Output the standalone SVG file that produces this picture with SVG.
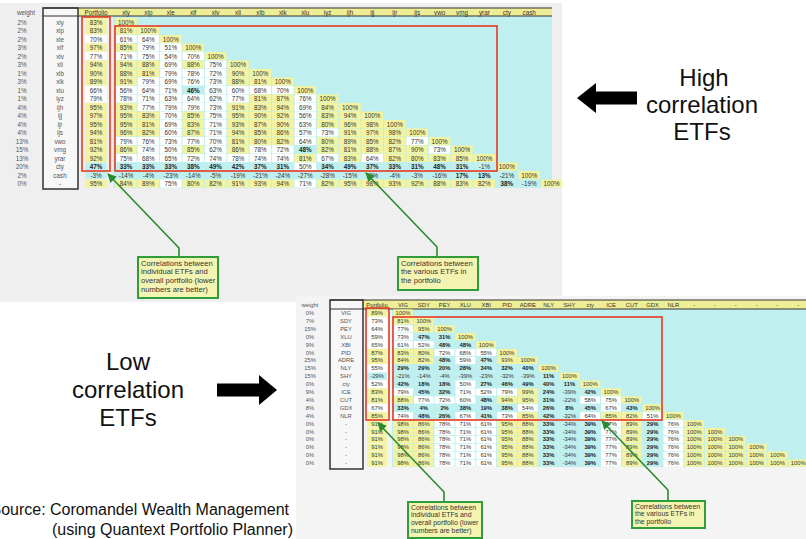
<svg xmlns="http://www.w3.org/2000/svg" width="806" height="539" viewBox="0 0 806 539">
<style>
.sh text{font-family:"Liberation Sans",Arial,sans-serif;fill:#333;text-anchor:middle;dominant-baseline:central}
.sh1 text{font-size:6.3px}
.sh2 text{font-size:5.8px}
.sh text.b{font-weight:bold;fill:#1a1a1a}
.sh text.g{fill:#555}
.big{font-family:"Liberation Sans",Arial,sans-serif;font-size:24px;fill:#111;text-anchor:middle}
.src{font-family:"Liberation Sans",Arial,sans-serif;font-size:16px;fill:#111;text-anchor:end}
.co{fill:#f4f4b2;stroke:#2f9e3a;stroke-width:2}
.ct{font-family:"Liberation Sans",Arial,sans-serif;fill:#333}
.ct1{font-size:7.6px}
.ct2{font-size:6.9px}
.red{fill:none;stroke:#e63a22;stroke-width:1.6}
.conn{fill:none;stroke:#2a8a2e;stroke-width:1.6;marker-end:url(#ah)}
.hl{stroke:#333;stroke-width:1.2}
.box{fill:#f7f7f7;stroke:#333;stroke-width:1.5}
</style>
<defs>
<rect id="y" x="-10.7" y="-4" width="21.4" height="8" fill="#f3f3a0"/>
<rect id="w" x="-10.7" y="-4" width="21.4" height="8" fill="#ffffff"/>
<rect id="c" x="-10.7" y="-4" width="21.4" height="8" fill="#bfefee"/>
<rect id="y2" x="-9.9" y="-3.6" width="19.8" height="7.2" fill="#f3f3a0"/>
<rect id="w2" x="-9.9" y="-3.6" width="19.8" height="7.2" fill="#ffffff"/>
<rect id="c2" x="-9.9" y="-3.6" width="19.8" height="7.2" fill="#bfefee"/>
<marker id="ah" viewBox="0 0 10 10" refX="9" refY="5" markerWidth="9" markerHeight="9" orient="auto" markerUnits="userSpaceOnUse"><path d="M0,0 L10,5 L0,10 z" fill="#2a8a2e"/></marker>
</defs>
<rect x="0" y="0" width="806" height="539" fill="#ffffff"/>

<g id="top-sheet" class="sh sh1">
<rect x="0" y="3" width="562" height="299" fill="#efefef"/>
<rect x="113" y="16" width="439" height="172" fill="#bfefee"/>
<rect x="78" y="8" width="474" height="8" fill="#eeee96"/>
<rect class="box" x="43" y="8" width="35" height="181"/>
<line class="hl" x1="43" y1="8" x2="552" y2="8"/><line class="hl" x1="43" y1="16" x2="552" y2="16"/>
<g transform="translate(0,12)"><text x="26" class="g">weight</text><text x="96">Portfolio</text><text x="126">xly</text><text x="148.4">xlp</text><text x="170.8">xle</text><text x="193.2">xlf</text><text x="215.6">xlv</text><text x="238">xli</text><text x="260.4">xlb</text><text x="282.8">xlk</text><text x="305.2">xlu</text><text x="327.6">iyz</text><text x="350">ijh</text><text x="372.4">ijj</text><text x="394.8">ijr</text><text x="417.2">ijs</text><text x="439.6">vwo</text><text x="462">vmg</text><text x="484.4">yrar</text><text x="506.8">cty</text><text x="529.2">cash</text></g>
<g transform="translate(0,22)"><text x="22" class="g">2%</text><text x="60" class="g">xly</text><use href="#y" x="96"/><text x="96">83%</text><use href="#y" x="126"/><text x="126">100%</text></g>
<g transform="translate(0,30.5)"><text x="22" class="g">2%</text><text x="60" class="g">xlp</text><use href="#y" x="96"/><text x="96">83%</text><use href="#y" x="126"/><text x="126">81%</text><use href="#y" x="148.4"/><text x="148.4">100%</text></g>
<g transform="translate(0,39)"><text x="22" class="g">2%</text><text x="60" class="g">xle</text><use href="#w" x="96"/><text x="96">70%</text><use href="#w" x="126"/><text x="126">61%</text><use href="#w" x="148.4"/><text x="148.4">64%</text><use href="#y" x="170.8"/><text x="170.8">100%</text></g>
<g transform="translate(0,47.5)"><text x="22" class="g">3%</text><text x="60" class="g">xlf</text><use href="#y" x="96"/><text x="96">97%</text><use href="#y" x="126"/><text x="126">85%</text><use href="#w" x="148.4"/><text x="148.4">79%</text><use href="#w" x="170.8"/><text x="170.8">51%</text><use href="#y" x="193.2"/><text x="193.2">100%</text></g>
<g transform="translate(0,56)"><text x="22" class="g">2%</text><text x="60" class="g">xlv</text><use href="#w" x="96"/><text x="96">77%</text><use href="#w" x="126"/><text x="126">71%</text><use href="#w" x="148.4"/><text x="148.4">75%</text><use href="#w" x="170.8"/><text x="170.8">54%</text><use href="#w" x="193.2"/><text x="193.2">70%</text><use href="#y" x="215.6"/><text x="215.6">100%</text></g>
<g transform="translate(0,64.5)"><text x="22" class="g">3%</text><text x="60" class="g">xli</text><use href="#y" x="96"/><text x="96">94%</text><use href="#y" x="126"/><text x="126">94%</text><use href="#y" x="148.4"/><text x="148.4">88%</text><use href="#w" x="170.8"/><text x="170.8">69%</text><use href="#y" x="193.2"/><text x="193.2">88%</text><use href="#w" x="215.6"/><text x="215.6">75%</text><use href="#y" x="238"/><text x="238">100%</text></g>
<g transform="translate(0,73)"><text x="22" class="g">1%</text><text x="60" class="g">xlb</text><use href="#y" x="96"/><text x="96">90%</text><use href="#y" x="126"/><text x="126">88%</text><use href="#y" x="148.4"/><text x="148.4">81%</text><use href="#w" x="170.8"/><text x="170.8">79%</text><use href="#w" x="193.2"/><text x="193.2">78%</text><use href="#w" x="215.6"/><text x="215.6">72%</text><use href="#y" x="238"/><text x="238">90%</text><use href="#y" x="260.4"/><text x="260.4">100%</text></g>
<g transform="translate(0,81.5)"><text x="22" class="g">3%</text><text x="60" class="g">xlk</text><use href="#y" x="96"/><text x="96">89%</text><use href="#y" x="126"/><text x="126">91%</text><use href="#w" x="148.4"/><text x="148.4">79%</text><use href="#w" x="170.8"/><text x="170.8">69%</text><use href="#w" x="193.2"/><text x="193.2">76%</text><use href="#w" x="215.6"/><text x="215.6">73%</text><use href="#y" x="238"/><text x="238">88%</text><use href="#y" x="260.4"/><text x="260.4">81%</text><use href="#y" x="282.8"/><text x="282.8">100%</text></g>
<g transform="translate(0,90)"><text x="22" class="g">1%</text><text x="60" class="g">xlu</text><use href="#w" x="96"/><text x="96">66%</text><use href="#w" x="126"/><text x="126">56%</text><use href="#w" x="148.4"/><text x="148.4">64%</text><use href="#w" x="170.8"/><text x="170.8">71%</text><text x="193.2" class="b">46%</text><use href="#w" x="215.6"/><text x="215.6">63%</text><use href="#w" x="238"/><text x="238">60%</text><use href="#w" x="260.4"/><text x="260.4">68%</text><use href="#w" x="282.8"/><text x="282.8">70%</text><use href="#y" x="305.2"/><text x="305.2">100%</text></g>
<g transform="translate(0,98.5)"><text x="22" class="g">1%</text><text x="60" class="g">iyz</text><use href="#w" x="96"/><text x="96">79%</text><use href="#w" x="126"/><text x="126">78%</text><use href="#w" x="148.4"/><text x="148.4">71%</text><use href="#w" x="170.8"/><text x="170.8">63%</text><use href="#w" x="193.2"/><text x="193.2">64%</text><use href="#w" x="215.6"/><text x="215.6">62%</text><use href="#w" x="238"/><text x="238">77%</text><use href="#y" x="260.4"/><text x="260.4">81%</text><use href="#y" x="282.8"/><text x="282.8">87%</text><use href="#w" x="305.2"/><text x="305.2">76%</text><use href="#y" x="327.6"/><text x="327.6">100%</text></g>
<g transform="translate(0,107)"><text x="22" class="g">4%</text><text x="60" class="g">ijh</text><use href="#y" x="96"/><text x="96">95%</text><use href="#y" x="126"/><text x="126">93%</text><use href="#w" x="148.4"/><text x="148.4">77%</text><use href="#w" x="170.8"/><text x="170.8">79%</text><use href="#w" x="193.2"/><text x="193.2">79%</text><use href="#w" x="215.6"/><text x="215.6">73%</text><use href="#y" x="238"/><text x="238">91%</text><use href="#y" x="260.4"/><text x="260.4">83%</text><use href="#y" x="282.8"/><text x="282.8">94%</text><use href="#w" x="305.2"/><text x="305.2">69%</text><use href="#y" x="327.6"/><text x="327.6">84%</text><use href="#y" x="350"/><text x="350">100%</text></g>
<g transform="translate(0,115.5)"><text x="22" class="g">4%</text><text x="60" class="g">ijj</text><use href="#y" x="96"/><text x="96">97%</text><use href="#y" x="126"/><text x="126">95%</text><use href="#y" x="148.4"/><text x="148.4">83%</text><use href="#w" x="170.8"/><text x="170.8">70%</text><use href="#y" x="193.2"/><text x="193.2">85%</text><use href="#w" x="215.6"/><text x="215.6">75%</text><use href="#y" x="238"/><text x="238">95%</text><use href="#y" x="260.4"/><text x="260.4">90%</text><use href="#y" x="282.8"/><text x="282.8">92%</text><use href="#w" x="305.2"/><text x="305.2">56%</text><use href="#y" x="327.6"/><text x="327.6">83%</text><use href="#y" x="350"/><text x="350">94%</text><use href="#y" x="372.4"/><text x="372.4">100%</text></g>
<g transform="translate(0,124)"><text x="22" class="g">4%</text><text x="60" class="g">ijr</text><use href="#y" x="96"/><text x="96">95%</text><use href="#y" x="126"/><text x="126">95%</text><use href="#y" x="148.4"/><text x="148.4">81%</text><use href="#w" x="170.8"/><text x="170.8">69%</text><use href="#y" x="193.2"/><text x="193.2">83%</text><use href="#w" x="215.6"/><text x="215.6">71%</text><use href="#y" x="238"/><text x="238">93%</text><use href="#y" x="260.4"/><text x="260.4">87%</text><use href="#y" x="282.8"/><text x="282.8">90%</text><use href="#w" x="305.2"/><text x="305.2">63%</text><use href="#y" x="327.6"/><text x="327.6">80%</text><use href="#y" x="350"/><text x="350">96%</text><use href="#y" x="372.4"/><text x="372.4">98%</text><use href="#y" x="394.8"/><text x="394.8">100%</text></g>
<g transform="translate(0,132.5)"><text x="22" class="g">4%</text><text x="60" class="g">ijs</text><use href="#y" x="96"/><text x="96">94%</text><use href="#y" x="126"/><text x="126">96%</text><use href="#y" x="148.4"/><text x="148.4">82%</text><use href="#w" x="170.8"/><text x="170.8">60%</text><use href="#y" x="193.2"/><text x="193.2">87%</text><use href="#w" x="215.6"/><text x="215.6">71%</text><use href="#y" x="238"/><text x="238">94%</text><use href="#y" x="260.4"/><text x="260.4">85%</text><use href="#y" x="282.8"/><text x="282.8">86%</text><use href="#w" x="305.2"/><text x="305.2">57%</text><use href="#w" x="327.6"/><text x="327.6">73%</text><use href="#y" x="350"/><text x="350">91%</text><use href="#y" x="372.4"/><text x="372.4">97%</text><use href="#y" x="394.8"/><text x="394.8">98%</text><use href="#y" x="417.2"/><text x="417.2">100%</text></g>
<g transform="translate(0,141)"><text x="22" class="g">13%</text><text x="60" class="g">vwo</text><use href="#y" x="96"/><text x="96">81%</text><use href="#w" x="126"/><text x="126">79%</text><use href="#w" x="148.4"/><text x="148.4">76%</text><use href="#w" x="170.8"/><text x="170.8">73%</text><use href="#w" x="193.2"/><text x="193.2">77%</text><use href="#w" x="215.6"/><text x="215.6">70%</text><use href="#y" x="238"/><text x="238">81%</text><use href="#y" x="260.4"/><text x="260.4">80%</text><use href="#y" x="282.8"/><text x="282.8">82%</text><use href="#w" x="305.2"/><text x="305.2">64%</text><use href="#y" x="327.6"/><text x="327.6">80%</text><use href="#y" x="350"/><text x="350">89%</text><use href="#y" x="372.4"/><text x="372.4">85%</text><use href="#y" x="394.8"/><text x="394.8">82%</text><use href="#w" x="417.2"/><text x="417.2">77%</text><use href="#y" x="439.6"/><text x="439.6">100%</text></g>
<g transform="translate(0,149.5)"><text x="22" class="g">15%</text><text x="60" class="g">vmg</text><use href="#y" x="96"/><text x="96">92%</text><use href="#y" x="126"/><text x="126">86%</text><use href="#w" x="148.4"/><text x="148.4">74%</text><use href="#w" x="170.8"/><text x="170.8">50%</text><use href="#y" x="193.2"/><text x="193.2">85%</text><use href="#w" x="215.6"/><text x="215.6">62%</text><use href="#y" x="238"/><text x="238">86%</text><use href="#w" x="260.4"/><text x="260.4">78%</text><use href="#w" x="282.8"/><text x="282.8">72%</text><text x="305.2" class="b">48%</text><use href="#y" x="327.6"/><text x="327.6">82%</text><use href="#y" x="350"/><text x="350">81%</text><use href="#y" x="372.4"/><text x="372.4">88%</text><use href="#y" x="394.8"/><text x="394.8">87%</text><use href="#y" x="417.2"/><text x="417.2">90%</text><use href="#w" x="439.6"/><text x="439.6">73%</text><use href="#y" x="462"/><text x="462">100%</text></g>
<g transform="translate(0,158)"><text x="22" class="g">13%</text><text x="60" class="g">yrar</text><use href="#y" x="96"/><text x="96">92%</text><use href="#w" x="126"/><text x="126">75%</text><use href="#w" x="148.4"/><text x="148.4">68%</text><use href="#w" x="170.8"/><text x="170.8">65%</text><use href="#w" x="193.2"/><text x="193.2">72%</text><use href="#w" x="215.6"/><text x="215.6">74%</text><use href="#w" x="238"/><text x="238">78%</text><use href="#w" x="260.4"/><text x="260.4">74%</text><use href="#w" x="282.8"/><text x="282.8">74%</text><use href="#y" x="305.2"/><text x="305.2">81%</text><use href="#w" x="327.6"/><text x="327.6">67%</text><use href="#y" x="350"/><text x="350">83%</text><use href="#w" x="372.4"/><text x="372.4">64%</text><use href="#y" x="394.8"/><text x="394.8">82%</text><use href="#y" x="417.2"/><text x="417.2">80%</text><use href="#y" x="439.6"/><text x="439.6">83%</text><use href="#y" x="462"/><text x="462">85%</text><use href="#y" x="484.4"/><text x="484.4">100%</text></g>
<g transform="translate(0,166.5)"><text x="22" class="g">20%</text><text x="60" class="g">cty</text><use href="#c" x="96"/><text x="96" class="b">47%</text><text x="126" class="b">33%</text><text x="148.4" class="b">33%</text><text x="170.8" class="b">33%</text><text x="193.2" class="b">38%</text><text x="215.6" class="b">49%</text><text x="238" class="b">42%</text><text x="260.4" class="b">37%</text><text x="282.8" class="b">31%</text><use href="#w" x="305.2"/><text x="305.2">50%</text><text x="327.6" class="b">34%</text><text x="350" class="b">49%</text><text x="372.4" class="b">37%</text><text x="394.8" class="b">33%</text><text x="417.2" class="b">31%</text><text x="439.6" class="b">48%</text><text x="462" class="b">31%</text><text x="484.4">-1%</text><use href="#y" x="506.8"/><text x="506.8">100%</text></g>
<g transform="translate(0,175)"><text x="22" class="g">2%</text><text x="60" class="g">cash</text><use href="#c" x="96"/><text x="96">-3%</text><text x="126">-14%</text><text x="148.4">-4%</text><text x="170.8">-23%</text><text x="193.2">-14%</text><text x="215.6">-5%</text><text x="238">-19%</text><text x="260.4">-21%</text><text x="282.8">-24%</text><text x="305.2">-27%</text><text x="327.6">-28%</text><text x="350">-15%</text><text x="372.4">-9%</text><text x="394.8">-4%</text><text x="417.2">-3%</text><text x="439.6">-16%</text><text x="462" class="b">17%</text><text x="484.4" class="b">13%</text><text x="506.8">-21%</text><use href="#y" x="529.2"/><text x="529.2">100%</text></g>
<g transform="translate(0,183.5)"><text x="22" class="g">0%</text><text x="60" class="g">-</text><use href="#y" x="96"/><text x="96">95%</text><use href="#y" x="126"/><text x="126">84%</text><use href="#y" x="148.4"/><text x="148.4">89%</text><use href="#w" x="170.8"/><text x="170.8">75%</text><use href="#y" x="193.2"/><text x="193.2">80%</text><use href="#y" x="215.6"/><text x="215.6">82%</text><use href="#y" x="238"/><text x="238">91%</text><use href="#y" x="260.4"/><text x="260.4">93%</text><use href="#y" x="282.8"/><text x="282.8">94%</text><use href="#w" x="305.2"/><text x="305.2">71%</text><use href="#y" x="327.6"/><text x="327.6">82%</text><use href="#y" x="350"/><text x="350">95%</text><use href="#y" x="372.4"/><text x="372.4">98%</text><use href="#y" x="394.8"/><text x="394.8">93%</text><use href="#y" x="417.2"/><text x="417.2">92%</text><use href="#y" x="439.6"/><text x="439.6">88%</text><use href="#y" x="462"/><text x="462">83%</text><use href="#y" x="484.4"/><text x="484.4">82%</text><text x="506.8" class="b">38%</text><text x="529.2">-19%</text><use href="#y" x="551.6"/><text x="551.6">100%</text></g>
<rect class="red" x="82" y="17" width="28" height="154"/>
<rect class="red" x="115" y="26" width="382" height="145"/>
</g>

<g id="bottom-sheet" class="sh sh2">
<rect x="296" y="296" width="510" height="243" fill="#f4f4f4"/>
<rect x="392" y="309" width="414" height="158" fill="#bfefee"/>
<rect x="363" y="300" width="443" height="9" fill="#eeee96"/>
<rect class="box" x="330" y="300" width="33" height="169"/>
<line class="hl" x1="330" y1="300" x2="806" y2="300"/><line class="hl" x1="330" y1="309" x2="806" y2="309"/>
<g transform="translate(0,304.5)"><text x="310" class="g">weight</text><text x="377">Portfolio</text><text x="403">VIG</text><text x="423.8">SDY</text><text x="444.6">PEY</text><text x="465.4">XLU</text><text x="486.2">XBI</text><text x="507">PID</text><text x="527.8">ADRE</text><text x="548.6">NLY</text><text x="569.4">SHY</text><text x="590.2">cty</text><text x="611">ICE</text><text x="631.8">CUT</text><text x="652.6">GDX</text><text x="673.4">NLR</text><text x="694.2">-</text><text x="715">-</text><text x="735.8">-</text><text x="756.6">-</text><text x="777.4">-</text><text x="798.2">-</text></g>
<g transform="translate(0,313)"><text x="310" class="g">0%</text><text x="346" class="g">VIG</text><use href="#y2" x="377"/><text x="377">89%</text><use href="#y2" x="403"/><text x="403">100%</text></g>
<g transform="translate(0,320.9)"><text x="310" class="g">7%</text><text x="346" class="g">SDY</text><use href="#w2" x="377"/><text x="377">73%</text><use href="#y2" x="403"/><text x="403">81%</text><use href="#y2" x="423.8"/><text x="423.8">100%</text></g>
<g transform="translate(0,328.8)"><text x="310" class="g">15%</text><text x="346" class="g">PEY</text><use href="#w2" x="377"/><text x="377">64%</text><use href="#w2" x="403"/><text x="403">77%</text><use href="#y2" x="423.8"/><text x="423.8">95%</text><use href="#y2" x="444.6"/><text x="444.6">100%</text></g>
<g transform="translate(0,336.7)"><text x="310" class="g">0%</text><text x="346" class="g">XLU</text><use href="#w2" x="377"/><text x="377">59%</text><use href="#w2" x="403"/><text x="403">73%</text><text x="423.8" class="b">47%</text><text x="444.6" class="b">31%</text><use href="#y2" x="465.4"/><text x="465.4">100%</text></g>
<g transform="translate(0,344.6)"><text x="310" class="g">9%</text><text x="346" class="g">XBI</text><use href="#w2" x="377"/><text x="377">65%</text><use href="#w2" x="403"/><text x="403">61%</text><use href="#w2" x="423.8"/><text x="423.8">52%</text><text x="444.6" class="b">48%</text><text x="465.4" class="b">48%</text><use href="#y2" x="486.2"/><text x="486.2">100%</text></g>
<g transform="translate(0,352.5)"><text x="310" class="g">0%</text><text x="346" class="g">PID</text><use href="#y2" x="377"/><text x="377">87%</text><use href="#y2" x="403"/><text x="403">83%</text><use href="#y2" x="423.8"/><text x="423.8">80%</text><use href="#w2" x="444.6"/><text x="444.6">72%</text><use href="#w2" x="465.4"/><text x="465.4">68%</text><use href="#w2" x="486.2"/><text x="486.2">55%</text><use href="#y2" x="507"/><text x="507">100%</text></g>
<g transform="translate(0,360.4)"><text x="310" class="g">25%</text><text x="346" class="g">ADRE</text><use href="#y2" x="377"/><text x="377">95%</text><use href="#y2" x="403"/><text x="403">84%</text><use href="#y2" x="423.8"/><text x="423.8">82%</text><text x="444.6" class="b">48%</text><use href="#w2" x="465.4"/><text x="465.4">59%</text><text x="486.2" class="b">47%</text><use href="#y2" x="507"/><text x="507">93%</text><use href="#y2" x="527.8"/><text x="527.8">100%</text></g>
<g transform="translate(0,368.3)"><text x="310" class="g">15%</text><text x="346" class="g">NLY</text><use href="#w2" x="377"/><text x="377">55%</text><text x="403" class="b">29%</text><text x="423.8" class="b">29%</text><text x="444.6" class="b">20%</text><text x="465.4" class="b">28%</text><text x="486.2" class="b">34%</text><text x="507" class="b">32%</text><text x="527.8" class="b">40%</text><use href="#y2" x="548.6"/><text x="548.6">100%</text></g>
<g transform="translate(0,376.2)"><text x="310" class="g">15%</text><text x="346" class="g">SHY</text><use href="#c2" x="377"/><text x="377">-29%</text><text x="403">-21%</text><text x="423.8">-14%</text><text x="444.6">-4%</text><text x="465.4">-39%</text><text x="486.2">-23%</text><text x="507">-32%</text><text x="527.8">-39%</text><text x="548.6" class="b">11%</text><use href="#y2" x="569.4"/><text x="569.4">100%</text></g>
<g transform="translate(0,384.1)"><text x="310" class="g">0%</text><text x="346" class="g">cty</text><use href="#w2" x="377"/><text x="377">52%</text><text x="403" class="b">42%</text><text x="423.8" class="b">18%</text><text x="444.6" class="b">18%</text><use href="#w2" x="465.4"/><text x="465.4">50%</text><text x="486.2" class="b">27%</text><text x="507" class="b">46%</text><text x="527.8" class="b">49%</text><text x="548.6" class="b">40%</text><text x="569.4" class="b">11%</text><use href="#y2" x="590.2"/><text x="590.2">100%</text></g>
<g transform="translate(0,392)"><text x="310" class="g">9%</text><text x="346" class="g">ICE</text><use href="#y2" x="377"/><text x="377">83%</text><use href="#w2" x="403"/><text x="403">79%</text><text x="423.8" class="b">45%</text><text x="444.6" class="b">32%</text><use href="#w2" x="465.4"/><text x="465.4">71%</text><use href="#w2" x="486.2"/><text x="486.2">52%</text><use href="#w2" x="507"/><text x="507">79%</text><use href="#y2" x="527.8"/><text x="527.8">99%</text><text x="548.6" class="b">24%</text><text x="569.4">-39%</text><text x="590.2" class="b">42%</text><use href="#y2" x="611"/><text x="611">100%</text></g>
<g transform="translate(0,399.9)"><text x="310" class="g">4%</text><text x="346" class="g">CUT</text><use href="#y2" x="377"/><text x="377">81%</text><use href="#y2" x="403"/><text x="403">88%</text><use href="#w2" x="423.8"/><text x="423.8">77%</text><use href="#w2" x="444.6"/><text x="444.6">72%</text><use href="#w2" x="465.4"/><text x="465.4">60%</text><text x="486.2" class="b">48%</text><use href="#y2" x="507"/><text x="507">94%</text><use href="#y2" x="527.8"/><text x="527.8">95%</text><text x="548.6" class="b">31%</text><text x="569.4">-22%</text><use href="#w2" x="590.2"/><text x="590.2">58%</text><use href="#w2" x="611"/><text x="611">75%</text><use href="#y2" x="631.8"/><text x="631.8">100%</text></g>
<g transform="translate(0,407.8)"><text x="310" class="g">8%</text><text x="346" class="g">GDX</text><use href="#w2" x="377"/><text x="377">67%</text><text x="403" class="b">33%</text><text x="423.8" class="b">4%</text><text x="444.6" class="b">2%</text><text x="465.4" class="b">38%</text><text x="486.2" class="b">19%</text><text x="507" class="b">38%</text><use href="#w2" x="527.8"/><text x="527.8">54%</text><text x="548.6" class="b">26%</text><text x="569.4" class="b">8%</text><text x="590.2" class="b">45%</text><use href="#w2" x="611"/><text x="611">67%</text><text x="631.8" class="b">43%</text><use href="#y2" x="652.6"/><text x="652.6">100%</text></g>
<g transform="translate(0,415.7)"><text x="310" class="g">4%</text><text x="346" class="g">NLR</text><use href="#y2" x="377"/><text x="377">85%</text><use href="#w2" x="403"/><text x="403">74%</text><text x="423.8" class="b">48%</text><text x="444.6" class="b">26%</text><use href="#w2" x="465.4"/><text x="465.4">67%</text><text x="486.2" class="b">41%</text><use href="#w2" x="507"/><text x="507">73%</text><use href="#y2" x="527.8"/><text x="527.8">85%</text><text x="548.6" class="b">42%</text><text x="569.4">-32%</text><use href="#w2" x="590.2"/><text x="590.2">64%</text><use href="#y2" x="611"/><text x="611">85%</text><use href="#y2" x="631.8"/><text x="631.8">82%</text><use href="#w2" x="652.6"/><text x="652.6">51%</text><use href="#y2" x="673.4"/><text x="673.4">100%</text></g>
<g transform="translate(0,423.6)"><text x="310" class="g">0%</text><text x="346" class="g">-</text><use href="#y2" x="377"/><text x="377">91%</text><use href="#y2" x="403"/><text x="403">98%</text><use href="#y2" x="423.8"/><text x="423.8">86%</text><use href="#w2" x="444.6"/><text x="444.6">78%</text><use href="#w2" x="465.4"/><text x="465.4">71%</text><use href="#w2" x="486.2"/><text x="486.2">61%</text><use href="#y2" x="507"/><text x="507">95%</text><use href="#y2" x="527.8"/><text x="527.8">88%</text><text x="548.6" class="b">33%</text><text x="569.4">-34%</text><text x="590.2" class="b">39%</text><use href="#w2" x="611"/><text x="611">77%</text><use href="#y2" x="631.8"/><text x="631.8">89%</text><text x="652.6" class="b">29%</text><use href="#w2" x="673.4"/><text x="673.4">76%</text><use href="#y2" x="694.2"/><text x="694.2">100%</text></g>
<g transform="translate(0,431.5)"><text x="310" class="g">0%</text><text x="346" class="g">-</text><use href="#y2" x="377"/><text x="377">91%</text><use href="#y2" x="403"/><text x="403">98%</text><use href="#y2" x="423.8"/><text x="423.8">86%</text><use href="#w2" x="444.6"/><text x="444.6">78%</text><use href="#w2" x="465.4"/><text x="465.4">71%</text><use href="#w2" x="486.2"/><text x="486.2">61%</text><use href="#y2" x="507"/><text x="507">95%</text><use href="#y2" x="527.8"/><text x="527.8">88%</text><text x="548.6" class="b">33%</text><text x="569.4">-34%</text><text x="590.2" class="b">39%</text><use href="#w2" x="611"/><text x="611">77%</text><use href="#y2" x="631.8"/><text x="631.8">89%</text><text x="652.6" class="b">29%</text><use href="#w2" x="673.4"/><text x="673.4">76%</text><use href="#y2" x="694.2"/><text x="694.2">100%</text><use href="#y2" x="715"/><text x="715">100%</text></g>
<g transform="translate(0,439.4)"><text x="310" class="g">0%</text><text x="346" class="g">-</text><use href="#y2" x="377"/><text x="377">91%</text><use href="#y2" x="403"/><text x="403">98%</text><use href="#y2" x="423.8"/><text x="423.8">86%</text><use href="#w2" x="444.6"/><text x="444.6">78%</text><use href="#w2" x="465.4"/><text x="465.4">71%</text><use href="#w2" x="486.2"/><text x="486.2">61%</text><use href="#y2" x="507"/><text x="507">95%</text><use href="#y2" x="527.8"/><text x="527.8">88%</text><text x="548.6" class="b">33%</text><text x="569.4">-34%</text><text x="590.2" class="b">39%</text><use href="#w2" x="611"/><text x="611">77%</text><use href="#y2" x="631.8"/><text x="631.8">89%</text><text x="652.6" class="b">29%</text><use href="#w2" x="673.4"/><text x="673.4">76%</text><use href="#y2" x="694.2"/><text x="694.2">100%</text><use href="#y2" x="715"/><text x="715">100%</text><use href="#y2" x="735.8"/><text x="735.8">100%</text></g>
<g transform="translate(0,447.3)"><text x="310" class="g">0%</text><text x="346" class="g">-</text><use href="#y2" x="377"/><text x="377">91%</text><use href="#y2" x="403"/><text x="403">98%</text><use href="#y2" x="423.8"/><text x="423.8">86%</text><use href="#w2" x="444.6"/><text x="444.6">78%</text><use href="#w2" x="465.4"/><text x="465.4">71%</text><use href="#w2" x="486.2"/><text x="486.2">61%</text><use href="#y2" x="507"/><text x="507">95%</text><use href="#y2" x="527.8"/><text x="527.8">88%</text><text x="548.6" class="b">33%</text><text x="569.4">-34%</text><text x="590.2" class="b">39%</text><use href="#w2" x="611"/><text x="611">77%</text><use href="#y2" x="631.8"/><text x="631.8">89%</text><text x="652.6" class="b">29%</text><use href="#w2" x="673.4"/><text x="673.4">76%</text><use href="#y2" x="694.2"/><text x="694.2">100%</text><use href="#y2" x="715"/><text x="715">100%</text><use href="#y2" x="735.8"/><text x="735.8">100%</text><use href="#y2" x="756.6"/><text x="756.6">100%</text></g>
<g transform="translate(0,455.2)"><text x="310" class="g">0%</text><text x="346" class="g">-</text><use href="#y2" x="377"/><text x="377">91%</text><use href="#y2" x="403"/><text x="403">98%</text><use href="#y2" x="423.8"/><text x="423.8">86%</text><use href="#w2" x="444.6"/><text x="444.6">78%</text><use href="#w2" x="465.4"/><text x="465.4">71%</text><use href="#w2" x="486.2"/><text x="486.2">61%</text><use href="#y2" x="507"/><text x="507">95%</text><use href="#y2" x="527.8"/><text x="527.8">88%</text><text x="548.6" class="b">33%</text><text x="569.4">-34%</text><text x="590.2" class="b">39%</text><use href="#w2" x="611"/><text x="611">77%</text><use href="#y2" x="631.8"/><text x="631.8">89%</text><text x="652.6" class="b">29%</text><use href="#w2" x="673.4"/><text x="673.4">76%</text><use href="#y2" x="694.2"/><text x="694.2">100%</text><use href="#y2" x="715"/><text x="715">100%</text><use href="#y2" x="735.8"/><text x="735.8">100%</text><use href="#y2" x="756.6"/><text x="756.6">100%</text><use href="#y2" x="777.4"/><text x="777.4">100%</text></g>
<g transform="translate(0,463.1)"><text x="310" class="g">0%</text><text x="346" class="g">-</text><use href="#y2" x="377"/><text x="377">91%</text><use href="#y2" x="403"/><text x="403">98%</text><use href="#y2" x="423.8"/><text x="423.8">86%</text><use href="#w2" x="444.6"/><text x="444.6">78%</text><use href="#w2" x="465.4"/><text x="465.4">71%</text><use href="#w2" x="486.2"/><text x="486.2">61%</text><use href="#y2" x="507"/><text x="507">95%</text><use href="#y2" x="527.8"/><text x="527.8">88%</text><text x="548.6" class="b">33%</text><text x="569.4">-34%</text><text x="590.2" class="b">39%</text><use href="#w2" x="611"/><text x="611">77%</text><use href="#y2" x="631.8"/><text x="631.8">89%</text><text x="652.6" class="b">29%</text><use href="#w2" x="673.4"/><text x="673.4">76%</text><use href="#y2" x="694.2"/><text x="694.2">100%</text><use href="#y2" x="715"/><text x="715">100%</text><use href="#y2" x="735.8"/><text x="735.8">100%</text><use href="#y2" x="756.6"/><text x="756.6">100%</text><use href="#y2" x="777.4"/><text x="777.4">100%</text><use href="#y2" x="798.2"/><text x="798.2">100%</text></g>
<rect class="red" x="366" y="308" width="23" height="112"/>
<rect class="red" x="393" y="317" width="269" height="103"/>
</g>

<g id="connectors">
<path class="conn" d="M179,257 V248 L108,174"/>
<path class="conn" d="M437,257 V247 L366,173"/>
<path class="conn" d="M444,502 V492 L378,423"/>
<path class="conn" d="M668,501 V490 L602,421"/>
</g>

<g id="callout-top-portfolio">
<rect class="co" x="138" y="257" width="80" height="41"/>
<text class="ct ct1" x="141" y="265.5">Correlations between</text>
<text class="ct ct1" x="141" y="274.3">individual ETFs and</text>
<text class="ct ct1" x="141" y="283.1">overall portfolio (lower</text>
<text class="ct ct1" x="141" y="291.9">numbers are better)</text>
</g>
<g id="callout-top-etfs">
<rect class="co" x="398" y="257" width="80" height="33"/>
<text class="ct ct1" x="401" y="265.5">Correlations between</text>
<text class="ct ct1" x="401" y="274.3">the various ETFs in</text>
<text class="ct ct1" x="401" y="283.1">the portfolio</text>
</g>
<g id="callout-bottom-portfolio">
<rect class="co" x="408" y="502" width="74" height="36"/>
<text class="ct ct2" x="411" y="509.5">Correlations between</text>
<text class="ct ct2" x="411" y="517.2">individual ETFs and</text>
<text class="ct ct2" x="411" y="524.9">overall portfolio (lower</text>
<text class="ct ct2" x="411" y="532.6">numbers are better)</text>
</g>
<g id="callout-bottom-etfs">
<rect class="co" x="632" y="501" width="73" height="27"/>
<text class="ct ct2" x="635" y="508.5">Correlations between</text>
<text class="ct ct2" x="635" y="516.2">the various ETFs in</text>
<text class="ct ct2" x="635" y="523.9">the portfolio</text>
</g>

<g id="label-high">
<polygon points="577,98 596,83 596,91.5 637,91.5 637,104.5 596,104.5 596,113" fill="#000"/>
<text class="big" x="704" y="85.5">High</text>
<text class="big" x="702" y="112.5">correlation</text>
<text class="big" x="702" y="139.5">ETFs</text>
</g>
<g id="label-low">
<polygon points="277,390 259,375 259,383.5 217,383.5 217,396.5 259,396.5 259,405" fill="#000"/>
<text class="big" x="128" y="370">Low</text>
<text class="big" x="128" y="398">correlation</text>
<text class="big" x="128" y="426">ETFs</text>
</g>
<g id="source">
<text class="src" x="289" y="515">Source: Coromandel Wealth Management</text>
<text class="src" x="293" y="535">(using Quantext Portfolio Planner)</text>
</g>
</svg>
